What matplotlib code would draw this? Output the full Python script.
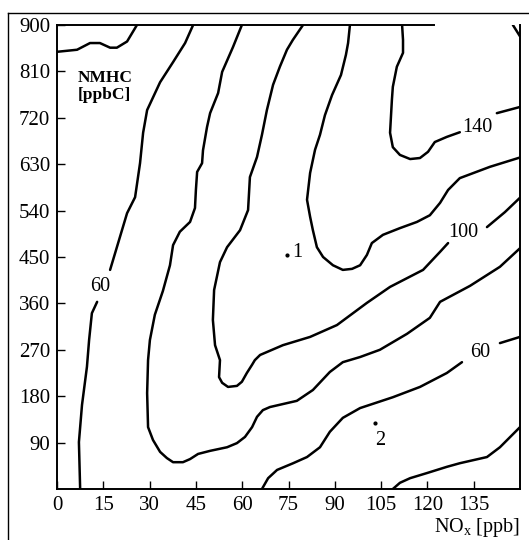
import matplotlib.pyplot as plt
from matplotlib.lines import Line2D

# isopleths: NOx [ppb] vs NMHC [ppbC]
corner_tl_x = [0, 6.5, 10.7, 13.9, 17.2, 19.4, 22.7, 24.6, 25.9]
corner_tl_y = [848, 852, 865, 865, 856, 856, 868, 887, 900]

iso60_left_lo_x = [7.5, 7.1, 8.1, 9.7, 10.4, 11.3, 13.0]
iso60_left_lo_y = [0, 91, 163, 237, 289, 341, 363]
iso60_left_hi_x = [17.2, 19.4, 22.7, 25.3, 26.9, 27.9, 29.2, 33.4, 37.6, 41.5, 44.1]
iso60_left_hi_y = [425, 469, 535, 566, 632, 691, 735, 789, 828, 865, 900]

iso80_x = [59.9, 57.0, 53.5, 52.2, 49.6, 48.6, 47.3, 47.0, 45.4, 45.0, 44.7, 43.1,
           39.8, 37.6, 36.6, 34.3, 31.7, 30.1, 29.5, 29.2, 29.5, 31.1, 33.4, 35.6,
           37.6, 40.8, 43.1, 45.7, 49.6, 55.1, 58.3, 60.9, 63.2, 64.8, 66.7, 69.0,
           77.7, 82.9, 88.4, 92.6, 98.2, 104.6, 113.4, 120.8, 124.1, 133.8, 143.5, 150]
iso80_y = [900, 857, 809, 768, 729, 702, 657, 632, 615, 580, 545, 518,
           499, 473, 434, 384, 338, 289, 250, 186, 120, 95, 72, 60,
           52, 52, 58, 68, 74, 81, 89, 101, 120, 140, 153, 159,
           171, 192, 227, 246, 256, 270, 301, 332, 363, 394, 431, 467]

iso100_a_x = [79.7, 76.4, 74.5, 72.2, 70.0, 68.0, 66.4, 64.8, 62.5, 61.9, 59.3,
              55.1, 52.8, 50.9, 50.5, 51.2, 52.8, 52.5, 53.5, 55.4, 58.3, 59.9,
              61.5, 63.2, 64.1, 65.8, 73.2, 82.0, 90.7, 100.4, 107.9, 118.6,
              124.1, 126.7]
iso100_a_y = [900, 871, 852, 819, 784, 735, 687, 644, 605, 541, 502,
              469, 440, 386, 328, 279, 250, 217, 206, 198, 200, 208,
              225, 241, 250, 260, 279, 295, 318, 361, 392, 425,
              460, 477]
iso100_b_x = [139.3, 145.1, 150]
iso100_b_y = [508, 537, 565]

iso120_x = [94.9, 94.3, 93.6, 92.0, 89.1, 86.8, 85.2, 83.6, 82.0, 81.0, 82.0,
            82.9, 84.2, 86.2, 89.4, 92.6, 95.6, 98.2, 100.4, 102.0, 105.6,
            111.1, 116.6, 120.8, 124.1, 126.7, 130.5, 140.3, 150]
iso120_y = [900, 865, 842, 803, 764, 725, 687, 658, 613, 561, 528,
            502, 469, 450, 434, 425, 427, 434, 454, 477, 493,
            506, 518, 531, 555, 580, 603, 625, 643]

iso140_a_x = [111.8, 112.1, 112.1, 110.1, 108.8, 108.5, 107.9, 108.8, 111.1,
              114.4, 117.6, 120.2, 122.4, 126.3, 130.5]
iso140_a_y = [900, 871, 846, 819, 780, 755, 691, 663, 648,
              640, 642, 654, 673, 683, 692]
iso140_b_x = [142.5, 150]
iso140_b_y = [729, 741]

corner_tr_x = [147.7, 150]
corner_tr_y = [900, 878]

iso60_right_a_x = [66.4, 68.4, 71.3, 76.5, 81.0, 85.2, 88.4, 92.6, 98.2, 108.8,
                   117.6, 126.3, 131.2]
iso60_right_a_y = [0, 21, 37, 50, 62, 81, 111, 138, 157, 178, 198, 225, 246]
iso60_right_b_x = [143.5, 150]
iso60_right_b_y = [283, 295]

iso40_x = [108.8, 111.1, 114.4, 119.9, 126.3, 130.5, 139.3, 143.5, 150]
iso40_y = [0, 12, 21, 31, 43, 50, 62, 81, 120]

lines = [
    (corner_tl_x, corner_tl_y), (iso60_left_lo_x, iso60_left_lo_y),
    (iso60_left_hi_x, iso60_left_hi_y), (iso80_x, iso80_y),
    (iso100_a_x, iso100_a_y), (iso100_b_x, iso100_b_y),
    (iso120_x, iso120_y), (iso140_a_x, iso140_a_y), (iso140_b_x, iso140_b_y),
    (corner_tr_x, corner_tr_y), (iso60_right_a_x, iso60_right_a_y),
    (iso60_right_b_x, iso60_right_b_y), (iso40_x, iso40_y),
]

# contour labels: (x, y, text)
labels = [(13.9, 392, "60"), (136.1, 702, "140"), (131.5, 498, "100"),
          (137.0, 264, "60"), (77.7, 458, "1"), (104.6, 95, "2")]
site_x = [74.5, 103.0]
site_y = [454, 128]

x_ticks = [0, 15, 30, 45, 60, 75, 90, 105, 120, 135]
y_ticks = [90, 180, 270, 360, 450, 540, 630, 720, 810, 900]

plt.rcParams['font.family'] = ['Liberation Serif', 'DejaVu Serif']

fig = plt.figure(figsize=(5.29, 5.40), dpi=100)
ax = fig.add_axes([57 / 529, 1 - 489 / 540, 463 / 529, 464 / 540])

for xs, ys in lines:
    ax.plot(xs, ys, color="black", lw=1.8, solid_capstyle="round",
            solid_joinstyle="round")

for x, y, t in labels:
    ax.text(x, y, t, fontsize=14.5, ha="center", va="center")
ax.scatter(site_x, site_y, s=4, color="black")

ax.text(6.8, 812, "NMHC", fontsize=12.5, fontweight="bold", va="top")
ax.text(6.8, 780, "[ppbC]", fontsize=12.5, fontweight="bold", va="top")

ax.set_xlim(0, 150)
ax.set_ylim(0, 900)
ax.set_xticks(x_ticks)
ax.set_yticks(y_ticks)
ax.tick_params(direction="in", length=6, width=1, labelsize=15, pad=5)
ax.set_xlabel(r"NO$_\mathregular{x}$ [ppb]", fontsize=14.5, loc="right", labelpad=1)

for s in ax.spines.values():
    s.set_linewidth(1.4)
ax.spines["top"].set_bounds(0, 122)

# outer frame of the scanned figure
fig.add_artist(Line2D([8 / 529, 8 / 529], [0, 1 - 13 / 540], color="black", lw=1))
fig.add_artist(Line2D([8 / 529, 1], [1 - 13 / 540, 1 - 13 / 540], color="black", lw=1))

fig.savefig("out.png", dpi=100)
